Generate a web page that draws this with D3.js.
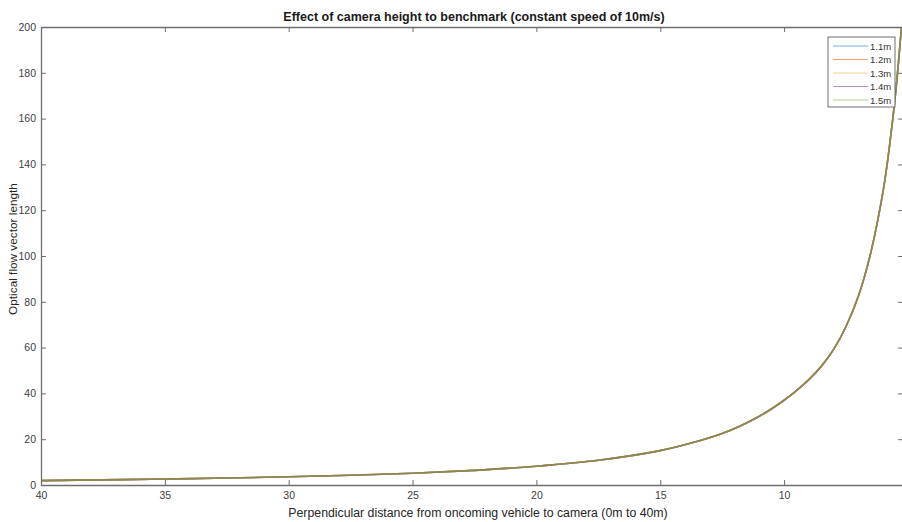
<!DOCTYPE html>
<html>
<head>
<meta charset="utf-8">
<script src="https://cdn.jsdelivr.net/npm/d3@7/dist/d3.min.js"></script>
<style>
  html, body { margin: 0; padding: 0; background: #fff; }
  svg { display: block; font-family: "Liberation Sans", Arial, sans-serif; }
</style>
</head>
<body>
<svg id="chart" width="902" height="522"></svg>
<script>
// Perpendicular distance (m) from the oncoming vehicle to the camera
const distances = [40, 37.5, 35, 32.5, 30, 27.5, 25, 22.5, 20, 17.5, 15, 13.75, 12.5, 11.75, 11, 10.5, 10,
                   9.5, 9, 8.5, 8, 7.5, 7, 6.5, 6, 5.75, 5.5, 5.3, 5.2];

// Optical flow vector length for each camera height
const flow11 = [1.9, 2.25, 2.6, 3.05, 3.6, 4.25, 5.1, 6.4, 8.2, 10.8, 15, 18.3, 22.5, 25.9, 30, 33.3, 37,
                41.2, 46, 51.8, 59.2, 69.2, 82.5, 101.5, 128.5, 147.5, 171, 195, 208];
const flow12 = [1.9, 2.25, 2.6, 3.05, 3.6, 4.25, 5.1, 6.4, 8.2, 10.8, 15, 18.3, 22.5, 25.9, 30, 33.3, 37,
                41.2, 46, 51.8, 59.2, 69.2, 82.5, 101.5, 128.5, 147.5, 171, 195, 208];
const flow13 = [1.9, 2.25, 2.6, 3.05, 3.6, 4.25, 5.1, 6.4, 8.2, 10.8, 15, 18.3, 22.5, 25.9, 30, 33.3, 37,
                41.2, 46, 51.8, 59.2, 69.2, 82.5, 101.5, 128.5, 147.5, 171, 195, 208];
const flow14 = [1.9, 2.25, 2.6, 3.05, 3.6, 4.25, 5.1, 6.4, 8.2, 10.8, 15, 18.3, 22.5, 25.9, 30, 33.3, 37,
                41.2, 46, 51.8, 59.2, 69.2, 82.5, 101.5, 128.5, 147.5, 171, 195, 208];
const flow15 = [1.9, 2.25, 2.6, 3.05, 3.6, 4.25, 5.1, 6.4, 8.2, 10.8, 15, 18.3, 22.5, 25.9, 30, 33.3, 37,
                41.2, 46, 51.8, 59.2, 69.2, 82.5, 101.5, 128.5, 147.5, 171, 195, 208];

const seriesNames = ["1.1m", "1.2m", "1.3m", "1.4m", "1.5m"];
const seriesColors = ["#0072BD", "#D95319", "#EDB120", "#7E2F8E", "#77AC30"];

const xTicks = [40, 35, 30, 25, 20, 15, 10];
const yTicks = [0, 20, 40, 60, 80, 100, 120, 140, 160, 180, 200];

const titleText = "Effect of camera height to benchmark (constant speed of 10m/s)";
const xLabelText = "Perpendicular distance from oncoming vehicle to camera (0m to 40m)";
const yLabelText = "Optical flow vector length";

const series = [flow11, flow12, flow13, flow14, flow15].map((vals, i) => ({
  name: seriesNames[i],
  color: seriesColors[i],
  points: distances.map((d, j) => ({ d, v: vals[j] }))
}));

const svg = d3.select("#chart");
const plot = { left: 41, right: 903, top: 27, bottom: 485 };

const x = d3.scaleLinear().domain([40, 5.2]).range([plot.left, plot.right]);
const y = d3.scaleLinear().domain([0, 200]).range([plot.bottom, plot.top]);

svg.append("defs").append("clipPath").attr("id", "plotClip")
  .append("rect")
  .attr("x", plot.left).attr("y", plot.top)
  .attr("width", plot.right - plot.left).attr("height", plot.bottom - plot.top);

// Curves
const line = d3.line()
  .x(p => x(p.d))
  .y(p => y(p.v))
  .curve(d3.curveCatmullRom.alpha(0.5));

const lines = svg.append("g").attr("clip-path", "url(#plotClip)");
series.forEach(s => {
  lines.append("path")
    .datum(s.points)
    .attr("fill", "none")
    .attr("stroke", s.color)
    .attr("stroke-width", 1.6)
    .attr("stroke-opacity", 0.55)
    .attr("d", line);
});

// Axes: box with inward ticks on every side
const axisColor = "#6e6e6e";
function styleAxis(g) {
  g.selectAll(".domain").attr("stroke", axisColor).attr("stroke-width", 1.3);
  g.selectAll(".tick line").attr("stroke", axisColor).attr("stroke-width", 1);
  g.selectAll(".tick text").attr("fill", "#404040").style("font-size", "10.5px")
    .style("font-family", "'Liberation Sans', Arial, sans-serif");
}

svg.append("g")
  .attr("transform", `translate(0,${plot.bottom})`)
  .call(d3.axisBottom(x).tickValues(xTicks).tickSizeInner(-5).tickSizeOuter(0).tickPadding(7))
  .call(styleAxis);

svg.append("g")
  .attr("transform", `translate(0,${plot.top})`)
  .call(d3.axisTop(x).tickValues(xTicks).tickSizeInner(-5).tickSizeOuter(0).tickFormat(""))
  .call(styleAxis);

svg.append("g")
  .attr("transform", `translate(${plot.left},0)`)
  .call(d3.axisLeft(y).tickValues(yTicks).tickSizeInner(-5).tickSizeOuter(0).tickPadding(5))
  .call(styleAxis);

svg.append("g")
  .attr("transform", `translate(${plot.right},0)`)
  .call(d3.axisRight(y).tickValues(yTicks).tickSizeInner(-5).tickSizeOuter(0).tickFormat(""))
  .call(styleAxis);

// Title and axis labels
svg.append("text")
  .attr("x", 474).attr("y", 21)
  .attr("text-anchor", "middle")
  .attr("fill", "#1a1a1a")
  .style("font-size", "12.5px").style("font-weight", "bold")
  .text(titleText);

svg.append("text")
  .attr("x", 478).attr("y", 517)
  .attr("text-anchor", "middle")
  .attr("fill", "#262626")
  .style("font-size", "12.3px")
  .text(xLabelText);

svg.append("text")
  .attr("transform", `translate(17,${249}) rotate(-90)`)
  .attr("text-anchor", "middle")
  .attr("fill", "#262626")
  .style("font-size", "11.8px")
  .text(yLabelText);

// Legend
const legend = svg.append("g").attr("transform", "translate(828,37)");
legend.append("rect")
  .attr("x", 0).attr("y", 0).attr("width", 67).attr("height", 70)
  .attr("fill", "#fff").attr("stroke", "#6e6e6e").attr("stroke-width", 1);

series.forEach((s, i) => {
  const ly = 9 + i * 13.5;
  legend.append("line")
    .attr("x1", 5).attr("x2", 40).attr("y1", ly).attr("y2", ly)
    .attr("stroke", s.color).attr("stroke-width", 1.2).attr("stroke-opacity", 0.55);
  legend.append("text")
    .attr("x", 42).attr("y", ly + 3.5)
    .attr("fill", "#333")
    .style("font-size", "9.5px")
    .text(s.name);
});
</script>
</body>
</html>
